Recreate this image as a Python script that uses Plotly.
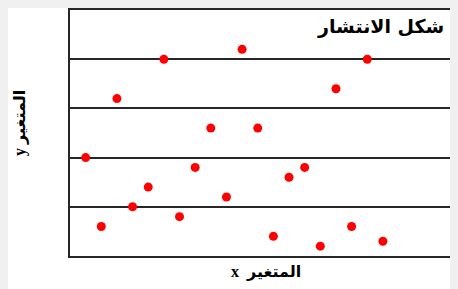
import plotly.graph_objects as go

x_values = list(range(1, 21))
y_values = [2.0, 0.6, 3.2, 1.0, 1.4, 4.0, 0.8, 1.8, 2.6, 1.2,
            4.2, 2.6, 0.4, 1.6, 1.8, 0.2, 3.4, 0.6, 4.0, 0.3]

title_text = "شكل الانتشار"
x_label = "x  المتغير"
y_label = "y المتغير"

# page body has an 8px margin; figure sized to fit the window
OFF = 8
W, H = 450, 281
ml, mr, mt, mb = 62, 0, 2, 33
pw, ph = W - ml - mr, H - mt - mb

def px_to_paper_x(px):  # px in window coords
    return (px - OFF - ml) / pw

def px_to_paper_y(py):
    return (H - mb - (py - OFF)) / ph

fig = go.Figure()
fig.add_trace(go.Scatter(
    x=x_values, y=y_values, mode="markers",
    marker=dict(color="#ff0000", size=9, line=dict(width=0)),
    showlegend=False, hoverinfo="skip",
))

line_col = "#262626"
fig.update_layout(
    width=W, height=H,
    margin=dict(l=ml, r=mr, t=mt, b=mb),
    paper_bgcolor="white",
    plot_bgcolor="white",
    xaxis=dict(range=[0, 24.8], showgrid=False, zeroline=False,
               showline=True, linecolor=line_col, linewidth=2, mirror=True,
               showticklabels=False, ticks=""),
    yaxis=dict(range=[0, 5], dtick=1, showgrid=True, gridcolor=line_col, gridwidth=2,
               zeroline=False, showline=True, linecolor=line_col, linewidth=2,
               showticklabels=False, ticks=""),
    annotations=[
        dict(text="<b>" + title_text + "</b>", xref="paper", yref="paper",
             x=px_to_paper_x(446), y=px_to_paper_y(27), xanchor="right", yanchor="middle",
             showarrow=False, font=dict(family="DejaVu Sans", size=19, color="black")),
        dict(text="<b>" + x_label + "</b>", xref="paper", yref="paper",
             x=px_to_paper_x(266), y=px_to_paper_y(272), xanchor="center", yanchor="middle",
             showarrow=False, font=dict(family="Liberation Serif, DejaVu Sans", size=16, color="black")),
        dict(text="<b>" + y_label + "</b>", xref="paper", yref="paper",
             x=px_to_paper_x(20), y=px_to_paper_y(123), xanchor="center", yanchor="middle",
             textangle=-90,
             showarrow=False, font=dict(family="Liberation Serif, DejaVu Sans", size=16, color="black")),
    ],
)

fig.write_html("out.html", post_script="document.body.style.background='#f0f0f0';")
